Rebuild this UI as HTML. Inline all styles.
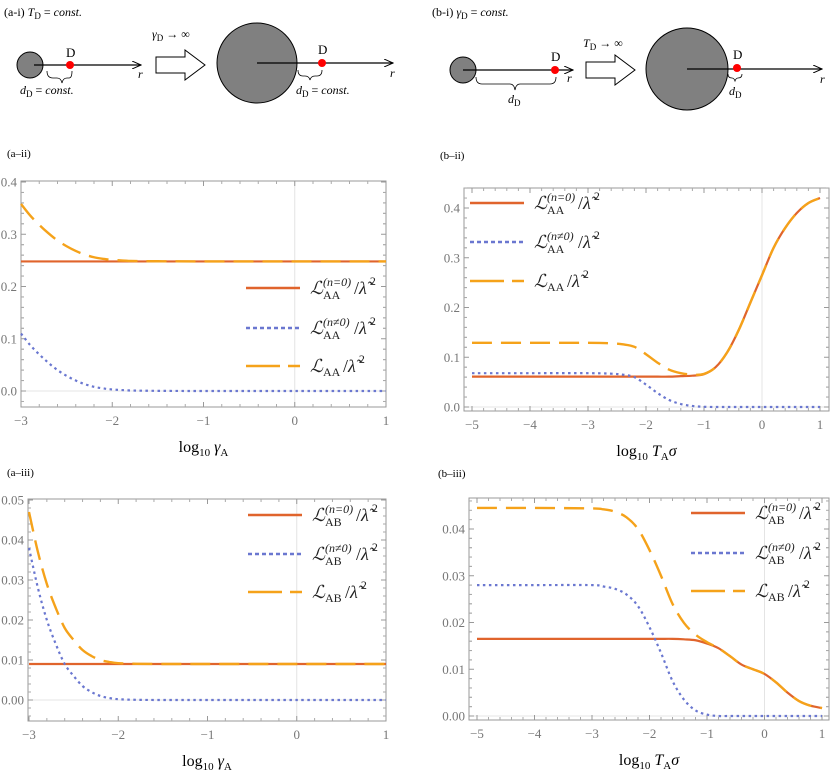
<!DOCTYPE html>
<html><head><meta charset="utf-8">
<style>
body{margin:0;background:#fff;}
svg{display:block;font-family:"Liberation Serif","DejaVu Serif",serif;}
.tk{fill:#777;font-size:13px;}
.lg{font-size:18px;fill:#222;}
.ls{font-size:12px;fill:#222;}
</style></head>
<body>
<svg id="fig" width="830" height="781" viewBox="0 0 830 781" xmlns="http://www.w3.org/2000/svg">
<defs>
<marker id="ah" markerWidth="10" markerHeight="8" refX="9" refY="4" orient="auto" markerUnits="userSpaceOnUse"><path d="M0,0 L9,4 L0,8" fill="none" stroke="#000" stroke-width="1"/></marker>
</defs>
<g>
<text x="4" y="16" font-size="12">(a-i) <tspan font-style="italic">T</tspan><tspan font-size="9" dy="3">D</tspan><tspan dy="-3"> = </tspan><tspan font-style="italic">const.</tspan></text>
<circle cx="30" cy="65" r="13" fill="#808080" stroke="#000" stroke-width="1"/>
<line x1="34" y1="65" x2="141" y2="65" stroke="#000" stroke-width="1.2" marker-end="url(#ah)"/>
<circle cx="70" cy="65" r="4" fill="#f00"/>
<text x="66" y="57" font-size="13">D</text>
<text x="138" y="78" font-size="12" font-style="italic">r</text>
<path d="M47,71 q0,7 6,7 h4 q4,0 5,5 q1,-5 5,-5 h2 q3,0 3,-7" fill="none" stroke="#000" stroke-width="0.8"/>
<text x="20" y="94" font-size="12"><tspan font-style="italic">d</tspan><tspan font-size="9" dy="3">D</tspan><tspan dy="-3"> = </tspan><tspan font-style="italic">const.</tspan></text>
<text x="152" y="38" font-size="12"><tspan font-style="italic">γ</tspan><tspan font-size="9" dy="3">D</tspan><tspan dy="-3"> → ∞</tspan></text>
<path d="M156,57 h29 v-7 l20,15 l-20,15 v-7 h-29 z" fill="#fff" stroke="#000" stroke-width="1"/>
<circle cx="257" cy="63" r="40" fill="#808080" stroke="#000" stroke-width="1"/>
<line x1="257" y1="63" x2="393" y2="63" stroke="#000" stroke-width="1.2" marker-end="url(#ah)"/>
<circle cx="322" cy="63" r="4" fill="#f00"/>
<text x="318" y="54" font-size="13">D</text>
<text x="390" y="77" font-size="12" font-style="italic">r</text>
<path d="M298,70 q0,6 5,6 h2 q4,0 5,4 q1,-4 5,-4 h2 q5,0 5,-6" fill="none" stroke="#000" stroke-width="0.8"/>
<text x="296" y="94" font-size="12"><tspan font-style="italic">d</tspan><tspan font-size="9" dy="3">D</tspan><tspan dy="-3"> = </tspan><tspan font-style="italic">const.</tspan></text>
</g>
<g>
<text x="432" y="16" font-size="12">(b-i) <tspan font-style="italic">γ</tspan><tspan font-size="9" dy="3">D</tspan><tspan dy="-3"> = </tspan><tspan font-style="italic">const.</tspan></text>
<circle cx="463" cy="70" r="13" fill="#808080" stroke="#000" stroke-width="1"/>
<line x1="463" y1="70" x2="573" y2="70" stroke="#000" stroke-width="1.2" marker-end="url(#ah)"/>
<circle cx="555" cy="70" r="4" fill="#f00"/>
<text x="551" y="61" font-size="13">D</text>
<text x="567" y="82" font-size="12" font-style="italic">r</text>
<path d="M476,77 q0,7 6,7 h28 q4,0 5,6 q1,-6 5,-6 h30 q6,0 6,-7" fill="none" stroke="#000" stroke-width="0.8"/>
<text x="508" y="103" font-size="12"><tspan font-style="italic">d</tspan><tspan font-size="9" dy="3">D</tspan></text>
<text x="583" y="47" font-size="12"><tspan font-style="italic">T</tspan><tspan font-size="9" dy="3">D</tspan><tspan dy="-3"> → ∞</tspan></text>
<path d="M586,62 h29 v-7 l20,15 l-20,15 v-7 h-29 z" fill="#fff" stroke="#000" stroke-width="1"/>
<circle cx="687" cy="69" r="41" fill="#808080" stroke="#000" stroke-width="1"/>
<line x1="687" y1="69" x2="822" y2="69" stroke="#000" stroke-width="1.2" marker-end="url(#ah)"/>
<circle cx="737" cy="68" r="4" fill="#f00"/>
<text x="733" y="59" font-size="13">D</text>
<text x="820" y="83" font-size="12" font-style="italic">r</text>
<path d="M728,74 q0,4 4,4 q2,0 3,3 q1,-3 3,-3 q4,0 4,-4" fill="none" stroke="#000" stroke-width="0.8"/>
<text x="729" y="95" font-size="12"><tspan font-style="italic">d</tspan><tspan font-size="9" dy="3">D</tspan></text>
</g>
<g id="plots"></g>
</svg>
<script>
const aiiX   = [-3,-2.9,-2.8,-2.7,-2.6,-2.5,-2.4,-2.3,-2.2,-2.1,-2,-1.8,-1.5,-1,0,1];
const aiiN0  = [0.248,0.248,0.248,0.248,0.248,0.248,0.248,0.248,0.248,0.248,0.248,0.248,0.248,0.248,0.248,0.248];
const aiiNN  = [0.11,0.088,0.07,0.054,0.04,0.029,0.02,0.013,0.008,0.005,0.003,0.001,0.0003,0,0,0];
const aiiTot = [0.358,0.336,0.318,0.302,0.288,0.277,0.268,0.261,0.256,0.253,0.251,0.249,0.2483,0.248,0.248,0.248];
const aiiiX   = [-3,-2.9,-2.8,-2.7,-2.6,-2.5,-2.4,-2.3,-2.2,-2.1,-2,-1.8,-1.5,-1,0,1];
const aiiiN0  = [0.009,0.009,0.009,0.009,0.009,0.009,0.009,0.009,0.009,0.009,0.009,0.009,0.009,0.009,0.009,0.009];
const aiiiNN  = [0.038,0.028,0.02,0.014,0.009,0.006,0.0035,0.002,0.001,0.0005,0.0002,0.00005,0,0,0,0];
const aiiiTot = [0.047,0.037,0.029,0.023,0.018,0.015,0.0125,0.011,0.01,0.0095,0.0092,0.00905,0.009,0.009,0.009,0.009];
const biiX   = [-5,-4,-3,-2.6,-2.4,-2.2,-2,-1.8,-1.6,-1.4,-1.2,-1,-0.8,-0.6,-0.4,-0.2,0,0.2,0.4,0.6,0.8,1];
const biiN0  = [0.061,0.061,0.061,0.061,0.061,0.061,0.061,0.061,0.061,0.062,0.063,0.066,0.08,0.11,0.155,0.21,0.265,0.32,0.36,0.39,0.41,0.42];
const biiNN  = [0.068,0.068,0.068,0.067,0.065,0.06,0.045,0.028,0.014,0.006,0.002,0.0005,0,0,0,0,0,0,0,0,0,0];
const biiTot = [0.129,0.129,0.129,0.128,0.126,0.121,0.106,0.089,0.075,0.068,0.065,0.0665,0.08,0.11,0.155,0.21,0.265,0.32,0.36,0.39,0.41,0.42];
const biiiX   = [-5,-4,-3,-2.8,-2.6,-2.4,-2.2,-2,-1.8,-1.6,-1.4,-1.2,-1,-0.8,-0.6,-0.4,-0.2,0,0.2,0.4,0.6,0.8,1];
const biiiN0  = [0.0165,0.0165,0.0165,0.0165,0.0165,0.0165,0.0165,0.0165,0.0165,0.0165,0.0164,0.0162,0.0155,0.0145,0.0128,0.011,0.01,0.009,0.0072,0.005,0.0032,0.0022,0.0017];
const biiiNN  = [0.028,0.028,0.028,0.0277,0.0272,0.026,0.0235,0.019,0.0135,0.0075,0.0035,0.0012,0.0003,0,0,0,0,0,0,0,0,0,0];
const biiiTot = [0.0445,0.0445,0.0444,0.0442,0.0437,0.0425,0.04,0.0355,0.03,0.024,0.0199,0.0174,0.0158,0.0145,0.0128,0.011,0.01,0.009,0.0072,0.005,0.0032,0.0022,0.0017];
const aXTicks = ["-3","-2","-1","0","1"];
const bXTicks = ["-5","-4","-3","-2","-1","0","1"];
const aiiYTicks = ["0.0","0.1","0.2","0.3","0.4"];
const aiiiYTicks = ["0.00","0.01","0.02","0.03","0.04","0.05"];
const biiYTicks = ["0.0","0.1","0.2","0.3","0.4"];
const biiiYTicks = ["0.00","0.01","0.02","0.03","0.04"];

const NS="http://www.w3.org/2000/svg";
const root=document.getElementById('plots');
function mk(tag,attrs,parent){const e=document.createElementNS(NS,tag);for(const k in attrs)e.setAttribute(k,attrs[k]);(parent||root).appendChild(e);return e;}
function smooth(pts){let d="M"+pts[0][0].toFixed(2)+","+pts[0][1].toFixed(2);
 for(let i=0;i<pts.length-1;i++){const p0=pts[Math.max(0,i-1)],p1=pts[i],p2=pts[i+1],p3=pts[Math.min(pts.length-1,i+2)];
  const c1=[p1[0]+(p2[0]-p0[0])/6,p1[1]+(p2[1]-p0[1])/6],c2=[p2[0]-(p3[0]-p1[0])/6,p2[1]-(p3[1]-p1[1])/6];
  d+=" C"+c1[0].toFixed(2)+","+c1[1].toFixed(2)+" "+c2[0].toFixed(2)+","+c2[1].toFixed(2)+" "+p2[0].toFixed(2)+","+p2[1].toFixed(2);}
 return d;}
const COL={n0:"#e0642c",nn:"#6a77d0",tot:"#f5a21a"};
function panel(o){
 const g=mk('g',{});
 
 
 const sx=v=>o.px0+(v-o.x0)*(o.px1-o.px0)/(o.x1-o.x0);
 const sy=v=>o.py0+(v-o.y0)*(o.py1-o.py0)/(o.y1-o.y0);
 const zl=mk('line',{x1:sx(0),x2:sx(0),y1:o.fy0,y2:o.fy1,stroke:"#e4e4e4","stroke-width":1},g);
 
 
 const zh=mk('line',{x1:o.fx0,x2:o.fx1,y1:sy(0),y2:sy(0),stroke:"#e4e4e4","stroke-width":1},g);
 
 
 const fr=mk('rect',{x:o.fx0,y:o.fy0,width:o.fx1-o.fx0,height:o.fy1-o.fy0,fill:"none",stroke:"#999","stroke-width":1},g);
 
 
 o.xt.forEach((t,i)=>{const v=parseFloat(t),x=sx(v);
  mk('line',{x1:x,x2:x,y1:o.fy1,y2:o.fy1-5,stroke:"#999"},g);
  mk('line',{x1:x,x2:x,y1:o.fy0,y2:o.fy0+5,stroke:"#999"},g);
  for(let k=1;k<5;k++){const xm=sx(v+k*0.2);if(xm<o.fx1){mk('line',{x1:xm,x2:xm,y1:o.fy1,y2:o.fy1-3,stroke:"#aaa"},g);mk('line',{x1:xm,x2:xm,y1:o.fy0,y2:o.fy0+3,stroke:"#aaa"},g);}}
  const tx=mk('text',{x:x,y:o.fy1+18,"text-anchor":"middle",class:"tk"},g);
  tx.textContent=t.replace('-','\u2212');
  
  
 });
 const step=parseFloat(o.yt[1])-parseFloat(o.yt[0]);
 o.yt.forEach(t=>{const v=parseFloat(t),y=sy(v);
  mk('line',{x1:o.fx0,x2:o.fx0+5,y1:y,y2:y,stroke:"#999"},g);
  mk('line',{x1:o.fx1,x2:o.fx1-5,y1:y,y2:y,stroke:"#999"},g);
  for(let k=-4;k<5;k++){if(k===0)continue;const ym=sy(v+k*step/5);if(ym>o.fy0&&ym<o.fy1){mk('line',{x1:o.fx0,x2:o.fx0+3,y1:ym,y2:ym,stroke:"#aaa"},g);mk('line',{x1:o.fx1,x2:o.fx1-3,y1:ym,y2:ym,stroke:"#aaa"},g);}}
  const ty=mk('text',{x:o.fx0-4,y:y+4.5,"text-anchor":"end",class:"tk"},g);
  ty.textContent=t;
  
  
 });
 const ser=[["n0",o.n0,"none",2.2],["nn",o.nn,"2.5,3.5",2.2],["tot",o.tot,"20,9",2.4]];
 ser.forEach(([k,arr,da,w])=>{const pts=o.x.map((xv,i)=>[sx(xv),sy(arr[i])]);
  const p=mk('path',{d:smooth(pts),fill:"none",stroke:COL[k],"stroke-width":w,"stroke-dasharray":da},g);
  
  
 });
 const sups=["(n=0)","(n≠0)",""];
 ["n0","nn","tot"].forEach((k,i)=>{const y=o.ly[i];
  const ll=mk('line',{x1:o.lx,x2:o.lx+54,y1:y,y2:y,stroke:COL[k],"stroke-width":2.4,"stroke-dasharray":k==="nn"?"4,3":(k==="tot"?"34,8,8,0":"none")},g);
  
  
  const lg=mk('g',{},g);
  
  
  const x0=o.lx+64;
  const L=mk('text',{x:x0,y:y+6,class:"lg","font-family":"DejaVu Serif","font-style":"italic"},lg);
  L.textContent="ℒ";
  let xe;
  if(sups[i]){
   const sp=mk('text',{x:x0+13,y:y-2,class:"ls","font-style":"italic"},lg); sp.textContent=sups[i];
   const sb=mk('text',{x:x0+13,y:y+11,class:"ls"},lg); sb.textContent=o.sub;
   xe=x0+44;
  } else {
   const sb=mk('text',{x:x0+13,y:y+10,class:"ls"},lg); sb.textContent=o.sub;
   xe=x0+33;
  }
  const r=mk('text',{x:xe,y:y+6,class:"lg"},lg);
  r.innerHTML='/<tspan font-style="italic">λ̃</tspan><tspan font-size="12" dy="-9" dx="3">2</tspan>';
 });
 const pl=mk('text',{x:o.tx,y:o.ty,"font-size":"11"},g);
 pl.textContent=o.tag;
 
 
 const xl=mk('text',{x:(o.fx0+o.fx1)/2,y:o.fy1+45,"text-anchor":"middle","font-size":"16"},g);
 
 
 xl.innerHTML=o.xlab;
}
const xa='log<tspan font-size="11" dy="4">10</tspan><tspan dy="-4" font-style="italic"> γ</tspan><tspan font-size="11" dy="4">A</tspan>';
const xb='log<tspan font-size="11" dy="4">10</tspan><tspan dy="-4" font-style="italic"> T</tspan><tspan font-size="11" dy="4">A</tspan><tspan dy="-4" font-style="italic">σ</tspan>';
panel({name:"panel-a-ii",tag:"(a–ii)",tx:7,ty:157,x:aiiX,n0:aiiN0,nn:aiiNN,tot:aiiTot,x0:-3,x1:1,px0:21,px1:386,y0:0,y1:0.4,py0:391,py1:182,fx0:21,fx1:386,fy0:181,fy1:407,xt:aXTicks,yt:aiiYTicks,lx:246,ly:[288,328,366],sub:"AA",xlab:xa});
panel({name:"panel-a-iii",tag:"(a–iii)",tx:7,ty:476,x:aiiiX,n0:aiiiN0,nn:aiiiNN,tot:aiiiTot,x0:-3,x1:1,px0:29,px1:386,y0:0,y1:0.05,py0:700,py1:500,fx0:28,fx1:386,fy0:499,fy1:721,xt:aXTicks,yt:aiiiYTicks,lx:248,ly:[515,554,592],sub:"AB",xlab:xa});
panel({name:"panel-b-ii",tag:"(b–ii)",tx:440,ty:159,x:biiX,n0:biiN0,nn:biiNN,tot:biiTot,x0:-5,x1:1,px0:472,px1:820,y0:0,y1:0.4,py0:407,py1:208,fx0:464,fx1:829,fy0:188,fy1:411,xt:bXTicks,yt:biiYTicks,lx:470,ly:[203,242,281],sub:"AA",xlab:xb});
panel({name:"panel-b-iii",tag:"(b–iii)",tx:438,ty:477,x:biiiX,n0:biiiN0,nn:biiiNN,tot:biiiTot,x0:-5,x1:1,px0:477,px1:822,y0:0,y1:0.04,py0:716,py1:529,fx0:469,fx1:829,fy0:498,fy1:720,xt:bXTicks,yt:biiiYTicks,lx:691,ly:[513,553,591],sub:"AB",xlab:xb});
</script>
</body></html>
